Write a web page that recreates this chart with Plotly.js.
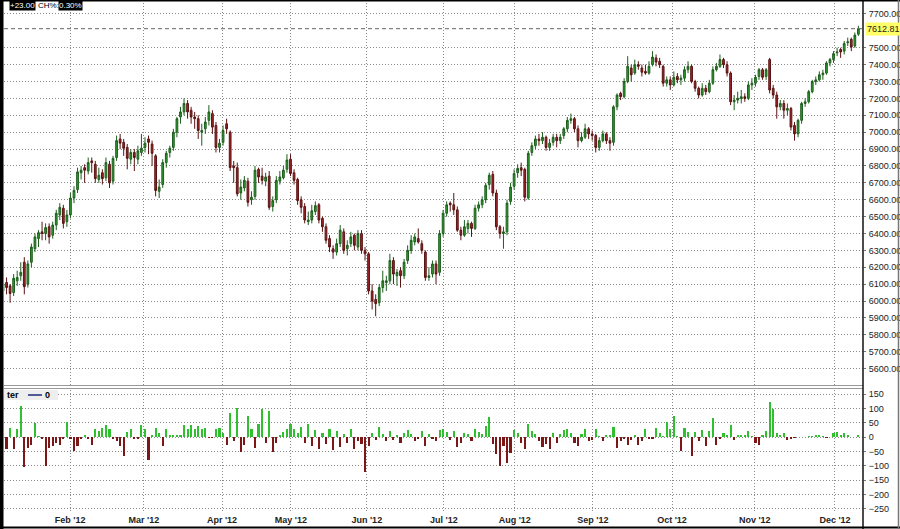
<!DOCTYPE html>
<html>
<head>
<meta charset="utf-8">
<script src="https://cdn.plot.ly/plotly-3.0.1.min.js"></script>
<style>html,body{margin:0;padding:0;background:#fff;}#chart{width:900px;height:529px;}</style>
</head>
<body>
<div id="chart"></div>
<script>
// ---- data ----
const opens = [
6060,6110,6090,6050,6120,6150,6230,6100,6230,6310,6370,6410,6400,6440,6390,6450,6510,6550,6470,6510,
6610,6660,6760,6790,6770,6830,6810,6720,6760,6730,6810,6710,6850,6960,6940,6910,6840,6880,6840,6880,
6910,6960,6930,6860,6650,6690,6820,6880,6910,7000,
7090,7120,7170,7130,7090,7080,7000,7020,7070,7110,7040,6910,6940,7050,7000,6800,6790,6640,6670,6710,
6600,6620,6780,6740,6710,6740,6560,6600,6710,6730,6780,6840,6760,6720,6600,6560,6470,6480,6530,6570,
6490,6440,6370,6310,6290,6340,6410,6310,
6340,6390,6320,6400,6300,6280,6060,6010,5990,6080,6110,6120,6240,6150,6180,6150,6240,6300,6350,6370,
6340,6290,6140,6160,6220,6170,6400,6520,6580,6570,6540,6420,6390,6430,6460,6430,6550,6570,6600,6690,
6750,6640,6440,6400,6410,6590,
6680,6760,6790,6780,6610,6880,6920,6960,6950,6970,6910,6940,6970,6950,6980,7020,7070,7080,7020,6950,
6970,7020,6990,6980,6910,6950,6990,6950,6940,7150,7230,7210,7300,7380,7350,7400,7380,7360,7350,7400,
7440,7420,7390,7290,7310,7280,7330,
7310,7320,7370,7390,7300,7260,7220,7260,7240,7290,7370,7390,7430,7400,7350,7180,7190,7200,7210,7200,
7280,7290,7330,7370,7330,7430,7260,7220,7150,7170,7130,7140,7040,6990,7070,7170,7180,7240,7300,7310,
7340,7350,7410,7430,7470,7490,7480,7530,7550,7510,7580];
const highs = [
6120,6140,6100,6160,6180,6230,6260,6240,6340,6400,6420,6470,6460,6460,6470,6540,6580,6570,6540,6640,
6680,6790,6800,6810,6850,6850,6830,6790,6780,6850,6830,6860,6980,6990,6960,6930,6900,6900,6920,6990,
6970,6980,6950,6870,6720,6840,6890,6920,7020,7090,
7150,7200,7190,7150,7120,7100,7050,7090,7160,7130,7060,6960,7040,7080,7010,6830,6820,6720,6740,6730,
6650,6800,6790,6790,6760,6770,6620,6740,6770,6800,6870,6870,6780,6730,6620,6580,6530,6570,6590,6580,
6500,6460,6390,6330,6370,6450,6430,6360,
6410,6400,6420,6420,6320,6290,6100,6040,6100,6180,6150,6280,6260,6190,6200,6250,6330,6390,6400,6430,
6360,6300,6200,6240,6240,6420,6540,6590,6590,6640,6560,6440,6480,6480,6470,6570,6590,6620,6700,6760,
6770,6660,6450,6440,6600,6700,
6780,6810,6820,6790,6890,6940,6980,6990,7000,6980,6960,6990,6990,6990,7030,7090,7110,7090,7040,7000,
7050,7030,7010,6990,6970,7010,7000,6970,7160,7230,7240,7320,7450,7400,7430,7420,7400,7400,7420,7480,
7460,7440,7400,7330,7330,7360,7350,
7340,7390,7420,7400,7310,7270,7290,7280,7310,7390,7410,7460,7440,7420,7360,7220,7240,7250,7230,7300,
7320,7340,7380,7380,7380,7440,7280,7240,7190,7190,7170,7150,7060,7080,7180,7200,7250,7310,7330,7360,
7370,7420,7440,7480,7500,7500,7540,7560,7560,7590,7630];
const lows = [
6020,6040,5990,6030,6090,6120,6040,6080,6200,6290,6320,6360,6360,6340,6370,6420,6480,6430,6440,6490,
6580,6640,6720,6700,6750,6760,6700,6700,6690,6710,6670,6690,6830,6900,6860,6780,6810,6770,6810,6860,
6880,6870,6800,6620,6610,6670,6790,6850,6890,6970,
7050,7100,7080,7050,7020,6960,6920,6990,7040,6990,6880,6880,6920,6990,6770,6700,6620,6600,6650,6560,
6570,6600,6700,6690,6680,6540,6530,6580,6690,6720,6760,6740,6690,6570,6520,6460,6450,6460,6510,6460,
6410,6340,6290,6250,6270,6320,6280,6270,
6320,6300,6300,6280,6240,6040,5950,5910,5970,6050,6060,6100,6100,6090,6080,6130,6220,6280,6330,6340,
6280,6120,6120,6140,6100,6150,6380,6500,6530,6510,6410,6360,6380,6400,6380,6420,6530,6550,6580,6660,
6620,6420,6370,6310,6390,6570,
6660,6730,6740,6590,6600,6860,6900,6920,6930,6890,6890,6920,6910,6930,6960,7000,7050,7000,6910,6940,
6960,6960,6950,6880,6890,6940,6930,6890,6920,7130,7190,7200,7290,7300,7340,7370,7330,7340,7340,7390,
7390,7380,7270,7270,7250,7270,7290,
7280,7300,7350,7290,7240,7200,7210,7220,7230,7280,7360,7380,7380,7330,7160,7130,7170,7170,7180,7190,
7250,7270,7310,7310,7310,7230,7200,7080,7130,7080,7100,7010,6950,6970,7050,7150,7170,7230,7280,7300,
7310,7340,7390,7410,7450,7440,7460,7510,7480,7500,7570];
const closes = [
6100,6080,6045,6135,6140,6170,6085,6220,6320,6380,6405,6400,6435,6380,6450,6520,6555,6460,6510,6610,
6655,6765,6775,6775,6820,6820,6725,6745,6725,6820,6700,6845,6950,6935,6905,6845,6880,6850,6890,6905,
6935,6940,6875,6655,6675,6820,6875,6905,7000,7080,
7120,7170,7120,7090,7080,7010,7010,7060,7120,7030,6910,6935,7010,7020,6790,6790,6635,6675,6715,6585,
6615,6775,6735,6715,6735,6555,6595,6715,6735,6775,6835,6755,6715,6595,6555,6480,6480,6535,6565,6480,
6440,6360,6320,6290,6340,6420,6300,6330,
6380,6330,6400,6300,6280,6060,6000,5985,6080,6120,6120,6240,6160,6170,6150,6230,6300,6360,6380,6350,
6300,6140,6150,6220,6160,6400,6520,6570,6570,6540,6420,6390,6440,6460,6430,6550,6570,6600,6685,6745,
6640,6440,6400,6410,6580,6675,
6755,6785,6775,6615,6875,6920,6960,6950,6970,6910,6935,6970,6950,6970,7020,7070,7080,7020,6950,6970,
7020,6990,6980,6910,6950,6990,6950,6935,7150,7220,7210,7300,7390,7340,7400,7390,7355,7350,7390,7445,
7415,7400,7290,7310,7280,7325,7310,
7320,7370,7390,7300,7260,7220,7260,7240,7290,7370,7390,7430,7400,7350,7180,7190,7200,7210,7200,7280,
7290,7325,7370,7325,7370,7250,7220,7150,7170,7130,7140,7030,6990,7070,7170,7180,7240,7300,7310,7340,
7350,7410,7430,7465,7475,7475,7525,7535,7505,7575,7612.81];
const oscillator = [
150,-43,33,-43,27,108,-103,-37,-26,48,4,-8,-99,-37,-31,-20,-29,-8,52,-8,
-49,-31,-6,9,-8,-27,27,23,33,41,27,-8,-14,-31,-64,17,27,-8,-6,41,
27,-78,9,33,13,-31,27,6,9,6,9,41,27,41,27,38,27,33,-2,-2,
27,33,15,-26,85,-14,102,-52,-26,73,29,-37,44,97,-20,91,-52,-20,9,17,
27,44,29,15,35,-20,45,-30,25,-40,15,-25,30,-45,20,-35,10,-20,30,-40,
-15,-25,-120,-30,15,-10,35,10,-15,20,-10,8,-20,15,25,10,-12,-8,20,-30,
12,-6,-15,25,30,18,-10,22,-35,-20,15,10,-12,28,18,12,40,70,-25,-60,
-100,-30,-90,-55,25,15,-20,-40,45,20,10,-15,-35,-25,-40,15,-20,10,25,30,
15,-20,-30,10,28,-15,-10,30,5,-14,9,6,36,-37,-14,-8,-29,-10,6,-26,
-14,27,-8,-6,33,15,4,52,27,73,3,-49,33,17,-64,17,-14,24,-31,21,
67,-26,-6,13,9,41,-10,6,6,6,21,3,-20,-29,6,21,122,99,13,9,
13,-10,-6,-3,2,2,2,3,3,6,9,3,-3,2,15,17,9,13,6,2,2,6];
const monthTicks = [18.9, 39.7, 61.7, 81.1, 102.5, 124.2, 144.2, 166.2, 188.5, 211.8, 234.4];
const monthLabels = ["Feb '12","Mar '12","Apr '12","May '12","Jun '12","Jul '12","Aug '12","Sep '12","Oct '12","Nov '12","Dec '12"];
const priceTicks = [5600,5700,5800,5900,6000,6100,6200,6300,6400,6500,6600,6700,6800,6900,7000,7100,7200,7300,7400,7500,7700];
const oscTicks = [150,100,50,0,-50,-100,-150,-200,-250];
const lastPrice = 7612.81;
const headerChange = "+23.00";
const headerPct = "0.30%";

// ---- chart ----
const idx = closes.map((_, i) => i);
const W = 900, H = 529, ML = 4, MR = 37, MT = 3, MB = 16;
const pw = W - ML - MR, ph = H - MT - MB;
const px = x => (x - ML) / pw;
const py = y => (H - MB - y) / ph;
const FONT = "Liberation Sans, Arial, sans-serif";

const candles = {
  type: 'candlestick', x: idx, open: opens, high: highs, low: lows, close: closes,
  xaxis: 'x', yaxis: 'y', hoverinfo: 'skip', showlegend: false, whiskerwidth: 0,
  increasing: {line: {color: '#1d5e1d', width: 1}, fillcolor: '#2e9e2e'},
  decreasing: {line: {color: '#5a1212', width: 1}, fillcolor: '#a3262a'}
};
const bars = {
  type: 'bar', x: idx, y: oscillator, xaxis: 'x2', yaxis: 'y2', width: 0.6,
  marker: {color: oscillator.map(v => v >= 0 ? '#2fbf2f' : '#7d1717'), line: {width: 0}},
  hoverinfo: 'skip', showlegend: false
};

const gridStyle = {showgrid: true, gridcolor: '#8a8a8a', griddash: '1px,2px', gridwidth: 1, zeroline: false};
const xRange = [0.28, 242.3];
const tickFont = {family: FONT, size: 9, color: '#222'};

const layout = {
  width: W, height: H, margin: {l: ML, r: MR, t: MT, b: MB},
  paper_bgcolor: '#ffffff', plot_bgcolor: '#ffffff',
  font: {family: FONT, size: 9, color: '#222'},
  showlegend: false, bargap: 0,
  xaxis: Object.assign({}, gridStyle, {domain: [0, 1], anchor: 'y', range: xRange, tickvals: monthTicks, ticktext: monthLabels, showticklabels: false, ticks: '', rangeslider: {visible: false}, fixedrange: true}),
  xaxis2: Object.assign({}, gridStyle, {domain: [0, 1], anchor: 'y2', matches: 'x', range: xRange, tickvals: monthTicks, ticktext: monthLabels, ticks: '', tickfont: {family: FONT, size: 9, color: '#222', weight: 'bold'}, fixedrange: true}),
  yaxis: Object.assign({}, gridStyle, {domain: [py(385), 1], side: 'right', range: [5503, 7765], tickvals: priceTicks, tickformat: '.2f', ticks: 'outside', ticklen: 2, tickcolor: '#777', ticklabelstandoff: 1, tickfont: tickFont, fixedrange: true}),
  yaxis2: Object.assign({}, gridStyle, {domain: [0, py(390)], side: 'right', range: [-264, 164], tickvals: oscTicks, ticks: 'outside', ticklen: 2, tickcolor: '#777', ticklabelstandoff: 1, tickfont: tickFont, fixedrange: true}),
  shapes: [
    {type: 'line', xref: 'paper', yref: 'y', x0: 0, x1: 1, y0: lastPrice, y1: lastPrice, line: {color: '#666', width: 1, dash: '4px,3px'}},
    {type: 'line', xref: 'paper', yref: 'paper', x0: 0, x1: 1, y0: py(385.5), y1: py(385.5), line: {color: '#999', width: 1}},
    {type: 'line', xref: 'paper', yref: 'paper', x0: 0, x1: 1, y0: py(388.5), y1: py(388.5), line: {color: '#999', width: 1}},
    {type: 'line', xref: 'paper', yref: 'paper', x0: px(863), x1: px(863), y0: py(0), y1: py(529), line: {color: '#111', width: 1.5}},
    {type: 'rect', xref: 'paper', yref: 'paper', x0: px(0), x1: px(3.5), y0: py(529), y1: py(0), fillcolor: '#000', line: {width: 0}},
    {type: 'line', xref: 'paper', yref: 'paper', x0: px(0), x1: px(900), y0: py(0.8), y1: py(0.8), line: {color: '#000', width: 1.5}},
    {type: 'line', xref: 'paper', yref: 'paper', x0: px(0), x1: px(900), y0: py(527.5), y1: py(527.5), line: {color: '#000', width: 2}},
    {type: 'line', xref: 'paper', yref: 'paper', x0: px(898.5), x1: px(898.5), y0: py(0), y1: py(529), line: {color: '#777', width: 1.5}},
    {type: 'rect', xref: 'paper', yref: 'paper', x0: px(4), x1: px(58), y0: py(400), y1: py(390), fillcolor: '#eeeeee', line: {width: 0}},
    {type: 'line', xref: 'paper', yref: 'paper', x0: px(28), x1: px(42), y0: py(395), y1: py(395), line: {color: '#1a2a7a', width: 1.5}}
  ],
  annotations: [
    {xref: 'paper', yref: 'y', x: 1, y: lastPrice, xanchor: 'left', xshift: 2, text: lastPrice.toFixed(2), showarrow: false, bgcolor: '#ffff66', borderpad: 1, font: tickFont},
    {xref: 'paper', yref: 'paper', x: px(9), y: py(5.5), xanchor: 'left', yanchor: 'middle', text: headerChange, showarrow: false, bgcolor: '#000', borderpad: 0, font: {family: FONT, size: 8, color: '#fff'}},
    {xref: 'paper', yref: 'paper', x: px(37), y: py(5.5), xanchor: 'left', yanchor: 'middle', text: 'CH%:', showarrow: false, borderpad: 0, font: {family: FONT, size: 8, color: '#000'}},
    {xref: 'paper', yref: 'paper', x: px(58), y: py(5.5), xanchor: 'left', yanchor: 'middle', text: headerPct, showarrow: false, bgcolor: '#000', borderpad: 0, font: {family: FONT, size: 8, color: '#fff'}},
    {xref: 'paper', yref: 'paper', x: px(5), y: py(395), xanchor: 'left', yanchor: 'middle', text: 'ter', showarrow: false, font: {family: FONT, size: 9, color: '#000', weight: 'bold'}},
    {xref: 'paper', yref: 'paper', x: px(43), y: py(395), xanchor: 'left', yanchor: 'middle', text: '0', showarrow: false, font: {family: FONT, size: 9, color: '#000', weight: 'bold'}}
  ]
};

Plotly.newPlot('chart', [candles, bars], layout, {staticPlot: true, displayModeBar: false});
</script>
</body>
</html>
